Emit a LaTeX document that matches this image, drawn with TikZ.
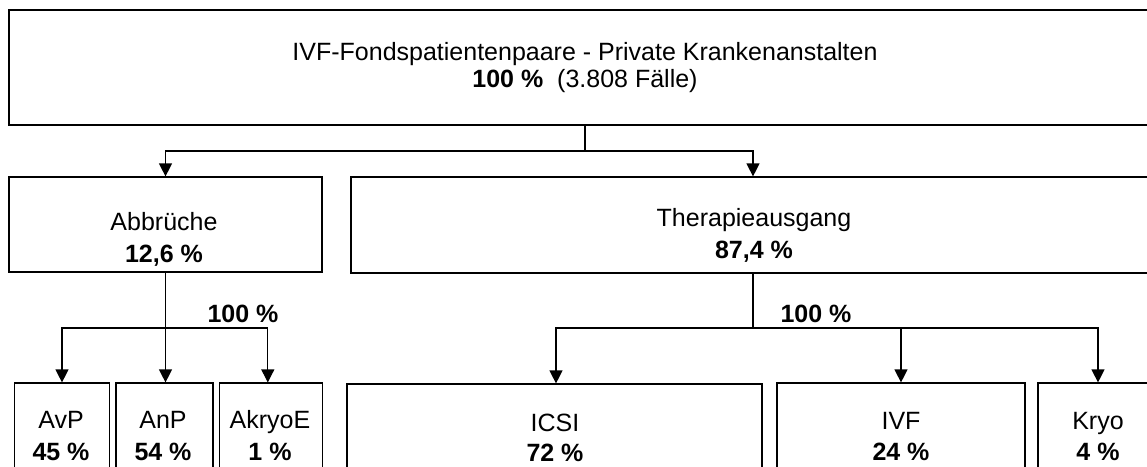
\documentclass[tikz,border=0pt]{standalone}
\usepackage{fontspec}
\setmainfont{Liberation Sans}
\usetikzlibrary{arrows.meta}
\begin{document}
\begin{tikzpicture}[x=1pt,y=-1pt,
  box/.style={draw=black,line width=1.2pt,inner sep=0pt,rectangle},
  txt/.style={anchor=base,inner sep=0pt,font=\fontsize{25}{30}\selectfont},
  conn/.style={draw=black,line width=1.2pt},
  arr/.style={conn,-{Triangle[width=13pt,length=13pt]}}]
\useasboundingbox (0,0) rectangle (1147,466);
\clip (0,0) rectangle (1147,466);
% boxes
\node[box,minimum width=1152pt,minimum height=115pt] (top) at (585,67.5) {};
\node[box,minimum width=313pt,minimum height=95pt] (abb) at (165.5,224.5) {};
\node[box,minimum width=804pt,minimum height=96pt] (ther) at (753,225) {};
\node[box,minimum width=95pt,minimum height=140pt] (avp) at (62,453) {};
\node[box,minimum width=97pt,minimum height=140pt] (anp) at (164.5,453) {};
\node[box,minimum width=103pt,minimum height=140pt] (akr) at (270.8,453) {};
\node[box,minimum width=415pt,minimum height=140pt] (icsi) at (554.5,454) {};
\node[box,minimum width=248pt,minimum height=140pt] (ivf) at (901,453) {};
\node[box,minimum width=120pt,minimum height=140pt] (kryo) at (1098,453) {};
% texts
\node[txt] (t1) at (585,60) {IVF-Fondspatientenpaare - Private Krankenanstalten};
\node[txt] (t2) at (585,87) {\textbf{100 \%}\ \ (3.808 Fälle)};
\node[txt] (a1) at (164,230) {Abbrüche};
\node[txt] (a2) at (164,262) {\textbf{12,6 \%}};
\node[txt] (th1) at (754,226) {Therapieausgang};
\node[txt] (th2) at (754,258) {\textbf{87,4 \%}};
\node[txt] (l1) at (243,322) {\textbf{100 \%}};
\node[txt] (l2) at (816,322) {\textbf{100 \%}};
\node[txt] (v1) at (61,428) {AvP};
\node[txt] (v2) at (61,460) {\textbf{45 \%}};
\node[txt] (n1) at (163,428) {AnP};
\node[txt] (n2) at (163,460) {\textbf{54 \%}};
\node[txt] (k1) at (270,428) {AkryoE};
\node[txt] (k2) at (270,460) {\textbf{1 \%}};
\node[txt] (i1) at (555,431) {ICSI};
\node[txt] (i2) at (555,461) {\textbf{72 \%}};
\node[txt] (f1) at (901,429) {IVF};
\node[txt] (f2) at (901,460) {\textbf{24 \%}};
\node[txt] (r1) at (1098,429) {Kryo};
\node[txt] (r2) at (1098,460) {\textbf{4 \%}};
% connectors
\coordinate (j1) at (585,151);
\coordinate (j2) at (165.5,328);
\coordinate (j3) at (753,328);
\draw[conn] (top.south) -- (j1);
\draw[arr] (j1) -| (abb.north);
\draw[arr] (j1) -| (ther.north);
\draw[conn] (abb.south) -- (j2);
\draw[arr] (j2) -| (avp.north);
\draw[arr] (j2) -- (anp.north -| j2);
\draw[arr] (j2) -| ([xshift=-3pt]akr.north);
\draw[conn] (ther.south) -- (j3);
\draw[arr] (j3) -| ([xshift=1.5pt]icsi.north);
\draw[arr] (j3) -| (ivf.north);
\draw[arr] (j3) -| (kryo.north);
\end{tikzpicture}
\end{document}
